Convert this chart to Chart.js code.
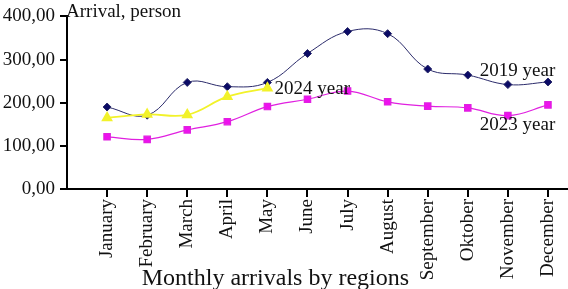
<!DOCTYPE html>
<html>
<head>
<meta charset="utf-8">
<script src="https://cdn.jsdelivr.net/npm/chart.js@4/dist/chart.umd.min.js"></script>
<style>
html,body{margin:0;padding:0;background:#fff;}
#wrap{width:568px;height:289px;position:relative;}
</style>
</head>
<body>
<div id="wrap"><canvas id="c" width="568" height="289"></canvas></div>
<script>
const months = ["January","February","March","April","May","June","July","August","September","Oktober","November","December"];
const arrivals2019 = [190, 171, 247, 237, 247, 314, 365, 360, 278, 264, 242, 248];
const arrivals2023 = [121, 115, 137, 156, 191, 208, 227, 202, 192, 188, 170, 195];
const arrivals2024 = [165, 173, 172, 214, 234];
const yTicks = [0, 100, 200, 300, 400];
const seriesNames = ["2019 year", "2023 year", "2024 year"];
const axisTitleX = "Monthly arrivals by regions";
const axisTitleY = "Arrival, person";

const FONT = "'Liberation Serif', 'Times New Roman', serif";
const toPts = arr => arr.map((v, i) => ({x: i, y: v}));

const labelPlugin = {
  id: 'labels',
  afterDraw(chart) {
    const {ctx, chartArea, scales} = chart;
    const xs = scales.x, ys = scales.y;
    ctx.save();
    ctx.fillStyle = '#111';
    ctx.textBaseline = 'alphabetic';
    ctx.textAlign = 'left';
    ctx.font = '19px ' + FONT;
    ctx.fillText(axisTitleY, chartArea.left - 1, chartArea.top + 1);
    ctx.fillText(seriesNames[0], xs.getPixelForValue(9.3), ys.getPixelForValue(261));
    ctx.fillText(seriesNames[1], xs.getPixelForValue(9.3), ys.getPixelForValue(136));
    ctx.fillText(seriesNames[2], xs.getPixelForValue(4.18), ys.getPixelForValue(220));
    ctx.font = '24px ' + FONT;
    ctx.textAlign = 'center';
    ctx.fillText(axisTitleX, xs.getPixelForValue(4.2), chart.height - 4);
    ctx.restore();
  }
};

new Chart(document.getElementById('c'), {
  type: 'line',
  data: {
    datasets: [
      {
        label: seriesNames[2], data: toPts(arrivals2024), order: 1,
        borderColor: '#f2f22a', backgroundColor: '#f2f22a', borderWidth: 1.8,
        pointStyle: 'triangle', pointRadius: 5, tension: 0.4
      },
      {
        label: seriesNames[0], data: toPts(arrivals2019), order: 2,
        borderColor: '#2a2a6a', backgroundColor: '#0b0b66', borderWidth: 1,
        pointStyle: 'rectRot', pointRadius: 4, tension: 0.4
      },
      {
        label: seriesNames[1], data: toPts(arrivals2023), order: 3,
        borderColor: '#e020e0', backgroundColor: '#ee11ee', borderWidth: 1.2,
        pointStyle: 'rect', pointRadius: 4.5, tension: 0.4
      }
    ]
  },
  options: {
    responsive: false,
    animation: false,
    devicePixelRatio: 1,
    layout: {autoPadding: false, padding: {top: 16, right: 0, bottom: 0, left: 0}},
    plugins: {legend: {display: false}, tooltip: {enabled: false}},
    elements: {point: {borderWidth: 0}},
    scales: {
      x: {
        type: 'linear',
        min: -1, max: 11.5,
        afterBuildTicks(scale) { scale.ticks = months.map((m, i) => ({value: i})); },
        afterFit(scale) { scale.height = 100; scale.paddingRight = 0; scale.paddingLeft = 0; },
        grid: {drawOnChartArea: false, color: '#000', lineWidth: 2, tickLength: 8},
        border: {color: '#000', width: 2},
        ticks: {
          autoSkip: false, minRotation: 90, maxRotation: 90, padding: 2,
          color: '#111', font: {family: FONT, size: 19},
          callback: (v) => months[v]
        }
      },
      y: {
        min: 0, max: 400,
        afterBuildTicks(scale) { scale.ticks = yTicks.map(v => ({value: v})); },
        afterFit(scale) { scale.width = 67; },
        grid: {drawOnChartArea: false, color: '#000', lineWidth: 2, tickLength: 7},
        border: {color: '#000', width: 2},
        ticks: {
          padding: 5, color: '#111', font: {family: FONT, size: 19},
          callback: (v) => v.toFixed(2).replace('.', ',')
        }
      }
    }
  },
  plugins: [labelPlugin]
});
</script>
</body>
</html>
